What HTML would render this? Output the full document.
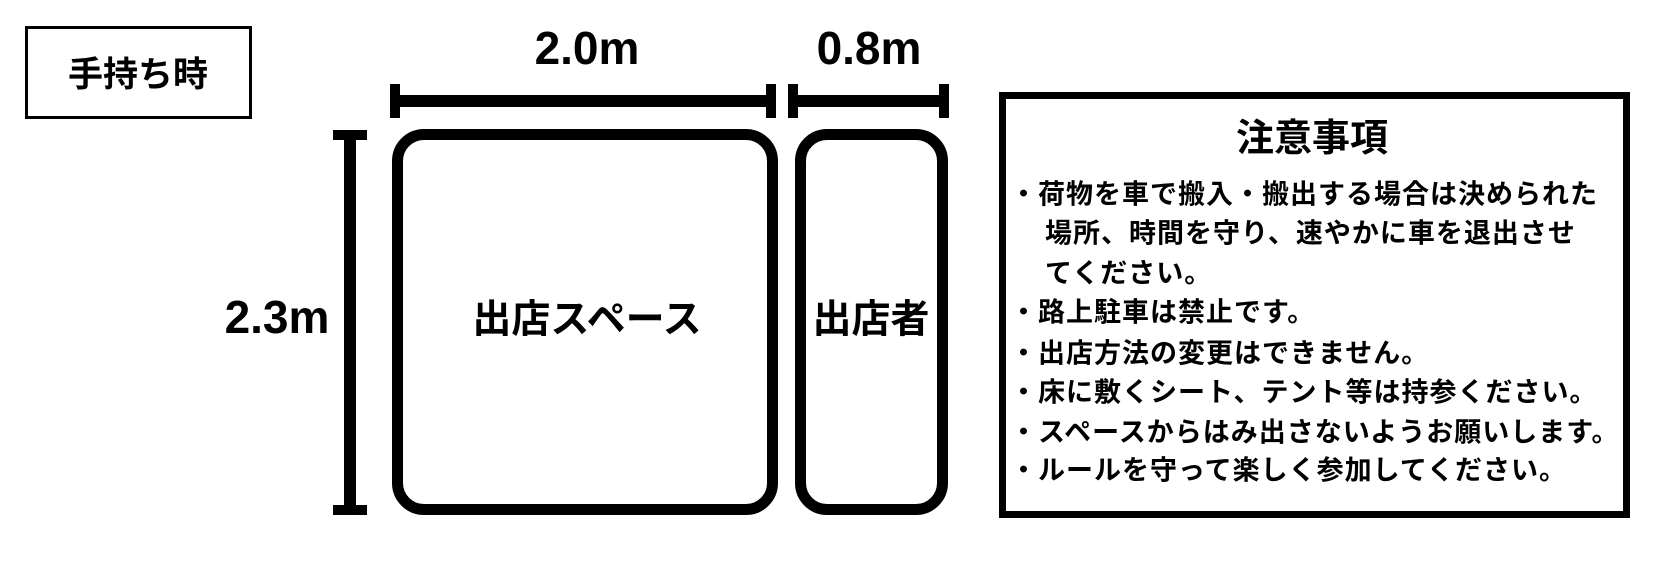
<!DOCTYPE html>
<html><head><meta charset="utf-8"><style>
html,body{margin:0;padding:0;background:#fff;}
body{width:1658px;height:584px;position:relative;overflow:hidden;font-family:"Liberation Sans","Noto Sans CJK JP",sans-serif;font-weight:bold;color:#000;}
.a{position:absolute;}
.t{position:absolute;white-space:nowrap;line-height:1;}
.c{transform:translate(-50%,-50%);}
.n{font-size:27px;letter-spacing:1px;transform:translateY(-50%);font-family:"Noto Sans CJK JP",sans-serif;}
.j{font-family:"Noto Sans CJK JP",sans-serif;}
</style></head><body>
<div class="a" style="left:25px;top:26px;width:221px;height:87px;border:3px solid #000;"></div>
<div class="t c j" style="left:138px;top:72px;font-size:35px;">手持ち時</div>

<div class="t c" style="left:587px;top:48px;font-size:46px;">2.0m</div>
<div class="t c" style="left:869px;top:48px;font-size:46px;">0.8m</div>
<div class="t c" style="left:277px;top:317px;font-size:46px;">2.3m</div>

<div class="a" style="left:390px;top:84px;width:10px;height:34px;background:#000;"></div>
<div class="a" style="left:390px;top:95px;width:386px;height:12px;background:#000;"></div>
<div class="a" style="left:766px;top:84px;width:10px;height:34px;background:#000;"></div>
<div class="a" style="left:788px;top:84px;width:10px;height:34px;background:#000;"></div>
<div class="a" style="left:788px;top:95px;width:161px;height:12px;background:#000;"></div>
<div class="a" style="left:939px;top:84px;width:10px;height:34px;background:#000;"></div>

<div class="a" style="left:333px;top:130px;width:34px;height:10px;background:#000;"></div>
<div class="a" style="left:344px;top:130px;width:12px;height:385px;background:#000;"></div>
<div class="a" style="left:333px;top:505px;width:34px;height:10px;background:#000;"></div>

<div class="a" style="left:392px;top:129px;width:364px;height:364px;border:11px solid #000;border-radius:32px;"></div>
<div class="a" style="left:795px;top:129px;width:131px;height:364px;border:11px solid #000;border-radius:32px;"></div>
<div class="t c j" style="left:587px;top:317px;font-size:39px;">出店スペース</div>
<div class="t c j" style="left:871px;top:317px;font-size:39px;">出店者</div>

<div class="a" style="left:999px;top:92px;width:617px;height:412px;border:7px solid #000;"></div>
<div class="t c j" style="left:1312px;top:135px;font-size:38px;">注意事項</div>
<div class="t n" style="left:1010px;top:192px;">・荷物を車で搬入・搬出する場合は決められた</div>
<div class="t n" style="left:1045px;top:231px;">場所、時間を守り、速やかに車を退出させ</div>
<div class="t n" style="left:1045px;top:271px;">てください。</div>
<div class="t n" style="left:1010px;top:310px;">・路上駐車は禁止です。</div>
<div class="t n" style="left:1010px;top:351px;">・出店方法の変更はできません。</div>
<div class="t n" style="left:1010px;top:390px;">・床に敷くシート、テント等は持参ください。</div>
<div class="t n" style="left:1010px;top:430px;">・スペースからはみ出さないようお願いします。</div>
<div class="t n" style="left:1010px;top:468px;">・ルールを守って楽しく参加してください。</div>
</body></html>
